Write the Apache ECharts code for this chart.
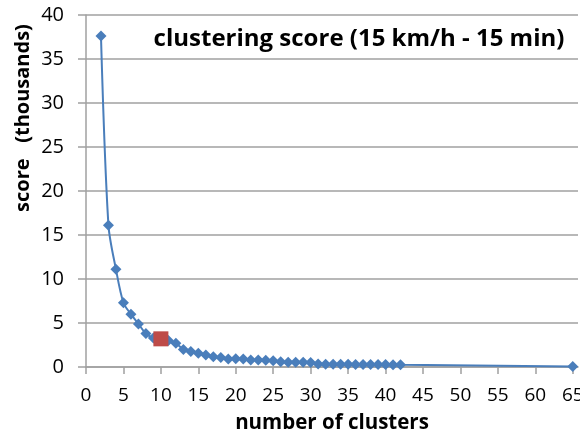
<!DOCTYPE html>
<html><head><meta charset="utf-8">
<script src="https://cdn.jsdelivr.net/npm/echarts@6/dist/echarts.min.js"></script>
<style>html,body{margin:0;padding:0;background:#fff}#c{width:580px;height:440px}</style>
</head><body><div id="c"></div>
<script>
const clusters = [2,3,4,5,6,7,8,9,10,11,12,13,14,15,16,17,18,19,20,21,22,23,24,25,26,27,28,29,30,31,32,33,34,35,36,37,38,39,40,41,42,65];
const scores = [37.6,16.1,11.1,7.3,6.0,4.9,3.8,3.3,3.2,3.0,2.7,2.0,1.75,1.55,1.36,1.17,1.08,0.92,0.95,0.9,0.8,0.8,0.78,0.72,0.6,0.55,0.55,0.55,0.5,0.35,0.3,0.3,0.3,0.3,0.28,0.28,0.28,0.27,0.27,0.26,0.25,0.05];
const chosenX = [10];
const chosenY = [3.2];
const xTicks = [0,5,10,15,20,25,30,35,40,45,50,55,60,65];
const titleText = 'clustering score (15 km/h - 15 min)';
const xName = 'number of clusters';
const yName = 'score   (thousands)';

const chart = echarts.init(document.getElementById('c'));
const font = 'Open Sans';
chart.setOption({
  animation:false,
  title:{text:titleText,left:354,top:22,textAlign:'center',textStyle:{fontFamily:font,fontWeight:'bold',fontSize:24,color:'#000'}},
  grid:{left:86,right:2,top:15,bottom:73,outerBoundsMode:'none'},
  graphic:[{type:'text',x:23,y:118,rotation:Math.PI/2,
    style:{text:yName,fontFamily:font,fontWeight:'bold',fontSize:20,fill:'#000',align:'center',verticalAlign:'middle'}}],
  xAxis:{type:'value',min:0,max:65.7,interval:5,
    name:xName,nameLocation:'middle',nameGap:46,
    nameTextStyle:{fontFamily:font,fontWeight:'bold',fontSize:20.5,color:'#000'},
    axisLine:{show:true,lineStyle:{color:'#a0a0a0',width:1.5}},
    axisTick:{show:true,length:7,lineStyle:{color:'#a0a0a0',width:1.5},customValues:xTicks},
    axisLabel:{fontFamily:font,fontSize:19,color:'#000',margin:19,customValues:xTicks,formatter:v=>String(v)},
    splitLine:{show:false}},
  yAxis:{type:'value',min:0,max:40,interval:5,
    axisLine:{show:true,lineStyle:{color:'#a0a0a0',width:1.5}},
    axisTick:{show:true,length:8,lineStyle:{color:'#a0a0a0',width:1.5}},
    axisLabel:{fontFamily:font,fontSize:20,color:'#000',margin:22},
    splitLine:{show:true,lineStyle:{color:'#a0a0a0',width:1.5}}},
  series:[
    {type:'line',data:clusters.map((x,i)=>[x,scores[i]]),smooth:0.3,
     symbol:'diamond',symbolSize:11,lineStyle:{color:'#4a7ebb',width:2},
     itemStyle:{color:'#4a7ebb'},z:2},
    {type:'scatter',data:chosenX.map((x,i)=>[x,chosenY[i]]),symbol:'rect',symbolSize:15,
     itemStyle:{color:'#be4b48',opacity:1},z:10}
  ]
});
</script></body></html>
